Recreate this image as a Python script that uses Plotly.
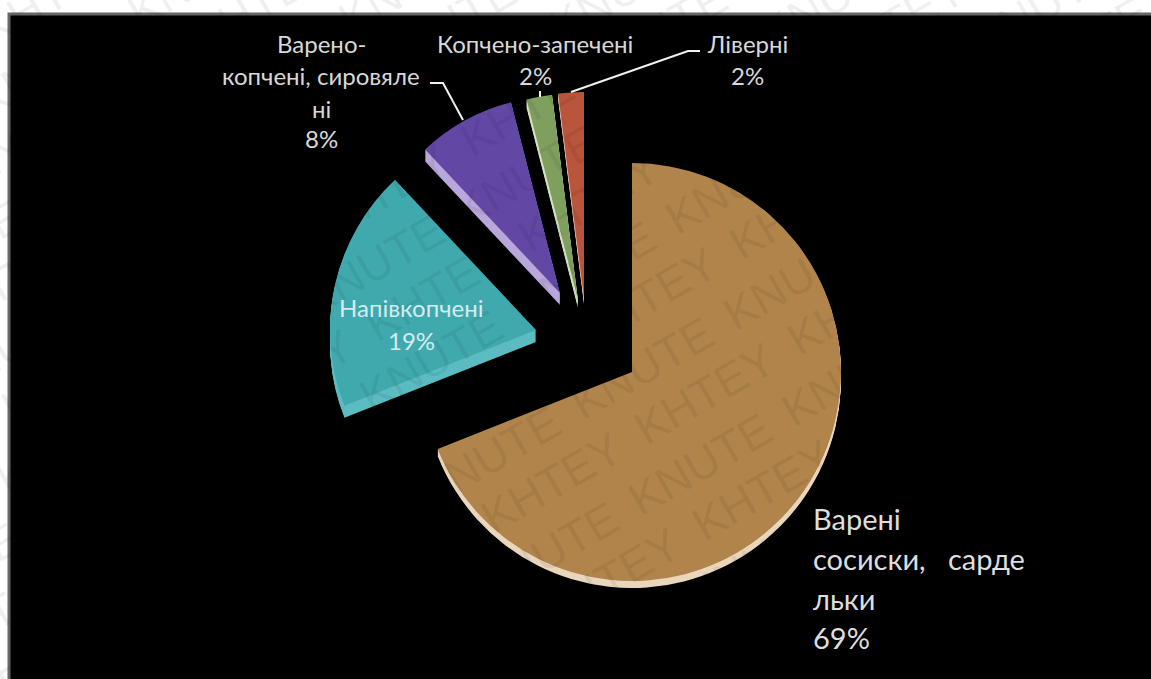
import plotly.graph_objects as go

# Sausage product range, share of output in percent
categories = ["Варені сосиски, сардельки", "Напівкопчені",
              "Варено-копчені, сировялені", "Копчено-запечені", "Ліверні"]
shares = [69, 19, 8, 2, 2]
top_colors = ["#B0844B", "#3FA9AE", "#6247A5", "#7F9F5F", "#B9553A"]
side_colors = ["#EAD6BC", "#5CBCC2", "#B9A8DC", "#D3E2C4", "#E3B8A6"]

W, H = 1151, 679
BLANK = "rgba(0,0,0,0)"

# Each slice gets its own pie: apex x, apex y, radius, depth of the side face (pixels)
slice_layout = [
    (632, 372, 209, 7),
    (536, 330, 206, 12),
    (560, 293, 197, 12),
    (578, 300, 207, 8),
    (584, 298, 206, 6),
]

# Wrapped label lines: (text, x, y, font size) in pixels
label_lines = [
    [("Варені", 811, 518, 29), ("сосиски,\u00a0\u00a0\u00a0сарде", 811, 558, 29),
     ("льки", 811, 598, 29)],
    [("Напівкопчені", 411, 308, 24)],
    [("Варено-", 321, 43, 24), ("копчені, сировяле", 321, 75, 24), ("ні", 321, 108, 24)],
    [("Копчено-запечені", 535, 43, 24)],
    [("Ліверні", 747, 43, 24)],
]
value_lines = [(811, 637, 29, "left"), (411, 340, 24, "center"), (321, 139, 24, "center"),
               (535, 75, 24, "center"), (747, 75, 24, "center")]
label_colors = ["#DEDEDE", "#D4ECEE", "#D8D8D8", "#D8D8D8", "#D8D8D8"]

# Leader lines from the outer labels to their slices
leaders = [
    [(463, 120), (443, 83), (430, 83)],
    [(540, 97), (540, 91)],
    [(571, 92), (688, 51), (700, 51)],
]

LABEL_FONT = "Lato, 'Open Sans', sans-serif"


def pie_domain(cx, cy, r):
    return dict(x=[(cx - r) / W, (cx + r) / W],
                y=[1 - (cy + r) / H, 1 - (cy - r) / H])


def slice_trace(index, color, dy=0):
    cx, cy, r, _ = slice_layout[index]
    colors = [color if i == index else BLANK for i in range(len(shares))]
    return go.Pie(labels=categories, values=shares, sort=False, direction="clockwise",
                  rotation=0, textinfo="none", hoverinfo="skip", showlegend=False,
                  marker=dict(colors=colors, line=dict(width=0)),
                  domain=pie_domain(cx, cy + dy, r))


fig = go.Figure()
for i in range(len(shares)):
    # Stacked copies of the slice build up its extruded side face
    for dy in range(slice_layout[i][3], 0, -1):
        fig.add_trace(slice_trace(i, side_colors[i], dy))
    fig.add_trace(slice_trace(i, top_colors[i]))


def px(x):
    return x / W


def py(y):
    return 1 - y / H


annotations = []

# Diagonal repeated wordmark, very faint; the two words sit on interleaved lattices
ANGLE = -30
WORD_STEP = (153, -89)
ROW_STEP = (58, 96)
ORIGINS = {"KNUTE": (700, 464), "KHTEY": (704, 394)}
for word, (ox, oy) in ORIGINS.items():
    for row in range(-10, 11):
        for col in range(-12, 13):
            x = ox + col * WORD_STEP[0] + row * ROW_STEP[0]
            y = oy + col * WORD_STEP[1] + row * ROW_STEP[1]
            if -90 < x < W + 90 and -60 < y < H + 60:
                annotations.append(dict(
                    x=px(x), y=py(y), xref="paper", yref="paper", text=word, showarrow=False,
                    xanchor="center", yanchor="middle", textangle=ANGLE,
                    font=dict(family="Liberation Sans", size=46, color="rgba(0,0,0,0.075)")))

for group, color in zip(label_lines, label_colors):
    for text, x, y, size in group:
        annotations.append(dict(
            x=px(x), y=py(y), xref="paper", yref="paper", text=text, showarrow=False,
            xanchor="left" if size == 29 else "center", yanchor="middle",
            font=dict(family=LABEL_FONT, size=size, color=color)))

for share, (x, y, size, anchor), color in zip(shares, value_lines, label_colors):
    annotations.append(dict(
        x=px(x), y=py(y), xref="paper", yref="paper", text=f"{share}%", showarrow=False,
        xanchor=anchor, yanchor="middle",
        font=dict(family=LABEL_FONT, size=size, color=color)))

shapes = [dict(type="rect", xref="paper", yref="paper", layer="below",
               x0=px(9), x1=px(W + 20), y0=py(14), y1=py(H + 20),
               fillcolor="#000000", line=dict(color="#666666", width=3))]
for pts in leaders:
    path = "M " + " L ".join(f"{px(x)},{py(y)}" for x, y in pts)
    shapes.append(dict(type="path", xref="paper", yref="paper", path=path,
                       line=dict(color="#F2F2F2", width=2)))

fig.update_layout(width=W, height=H, margin=dict(l=0, r=0, t=0, b=0),
                  paper_bgcolor="#FFFFFF", plot_bgcolor="#FFFFFF",
                  shapes=shapes, annotations=annotations, showlegend=False)

fig.write_html("out.html")
